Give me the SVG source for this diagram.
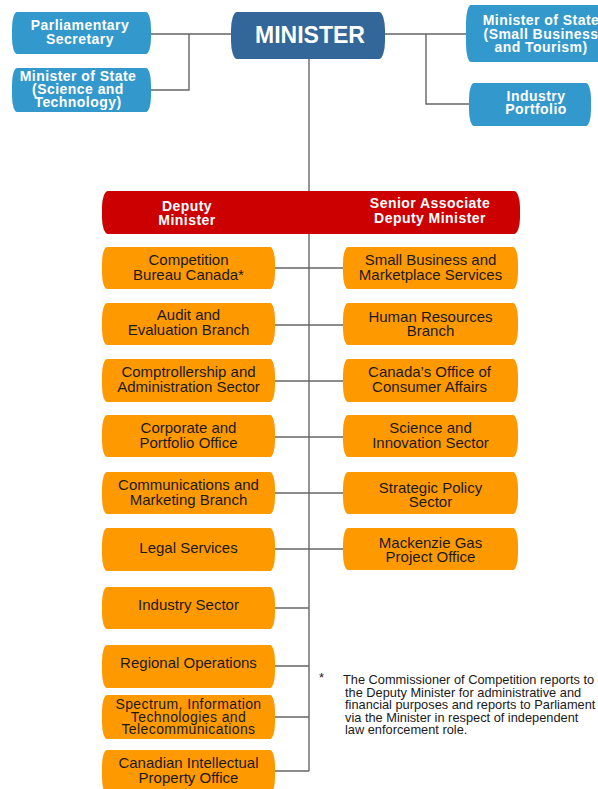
<svg xmlns="http://www.w3.org/2000/svg" width="598" height="789" viewBox="0 0 598 789">
  <style>
    .bg { fill: #ffffff; }
    .lb { fill: #3399cc; }
    .db { fill: #336699; }
    .rd { fill: #cc0000; }
    .or { fill: #ff9900; }
    .wt { font-family: "Liberation Sans", Arial, sans-serif; font-weight: bold; font-size: 14px; letter-spacing: 0.45px; fill: #ffffff; text-anchor: middle; }
    .bt { font-family: "Liberation Sans", Arial, sans-serif; font-size: 15px; fill: #1a1a1a; text-anchor: middle; }
    .bt3 { font-family: "Liberation Sans", Arial, sans-serif; font-size: 14px; letter-spacing: 0.4px; fill: #1a1a1a; text-anchor: middle; }
    .big { font-family: "Liberation Sans", Arial, sans-serif; font-weight: bold; font-size: 23px; fill: #ffffff; text-anchor: middle; }
    .note { font-family: "Liberation Sans", Arial, sans-serif; font-size: 12.8px; fill: #1a1a1a; }
    .ln { stroke: #666666; stroke-width: 1.4; fill: none; }
  </style>
  <rect class="bg" x="0" y="0" width="598" height="789"/>

  <!-- connectors -->
  <g id="connectors">
    <path class="ln" d="M151 34 H231 M189 34 V90 H151"/>
    <path class="ln" d="M385 34 H466 M426 34 V104 H469"/>
    <path class="ln" d="M309 59 V771"/>
    <path class="ln" d="M275 268 H343 M275 325 H343 M275 381 H343 M275 437 H343 M275 493 H343 M275 549 H343"/>
    <path class="ln" d="M275 608 H309 M275 666 H309 M275 717 H309 M275 771 H309"/>
  </g>

  <!-- top level -->
  <g id="minister">
    <rect class="db" x="231" y="12" width="154" height="47" rx="6" ry="18"/>
    <text class="big" x="310" y="43">MINISTER</text>
  </g>
  <g id="parliamentary-secretary">
    <rect class="lb" x="12" y="12" width="139" height="42" rx="5" ry="16"/>
    <text class="wt" x="80" y="30">Parliamentary</text>
    <text class="wt" x="80" y="44">Secretary</text>
  </g>
  <g id="minister-science">
    <rect class="lb" x="12" y="68" width="139" height="44" rx="5" ry="16"/>
    <text class="wt" x="78" y="81">Minister of State</text>
    <text class="wt" x="78" y="94">(Science and</text>
    <text class="wt" x="78" y="107">Technology)</text>
  </g>
  <g id="minister-small-business">
    <rect class="lb" x="466" y="5" width="150" height="57" rx="5" ry="18"/>
    <text class="wt" x="541" y="25">Minister of State</text>
    <text class="wt" x="541" y="38.5">(Small Business</text>
    <text class="wt" x="541" y="52">and Tourism)</text>
  </g>
  <g id="industry-portfolio">
    <rect class="lb" x="469" y="83" width="122" height="43" rx="5" ry="16"/>
    <text class="wt" x="536" y="101">Industry</text>
    <text class="wt" x="536" y="114">Portfolio</text>
  </g>

  <!-- deputy bar -->
  <g id="deputy-bar">
    <rect class="rd" x="102" y="191" width="418" height="43" rx="6" ry="16"/>
    <text class="wt" x="187" y="211">Deputy</text>
    <text class="wt" x="187" y="225">Minister</text>
    <text class="wt" x="430" y="208">Senior Associate</text>
    <text class="wt" x="430" y="223">Deputy Minister</text>
  </g>

  <!-- left column -->
  <g id="competition-bureau">
    <rect class="or" x="102" y="247" width="173" height="42" rx="5" ry="16"/>
    <text class="bt" x="188.5" y="265">Competition</text>
    <text class="bt" x="188.5" y="280">Bureau Canada*</text>
  </g>
  <g id="audit-evaluation">
    <rect class="or" x="102" y="303" width="173" height="42" rx="5" ry="16"/>
    <text class="bt" x="188.5" y="320">Audit and</text>
    <text class="bt" x="188.5" y="335">Evaluation Branch</text>
  </g>
  <g id="comptrollership">
    <rect class="or" x="102" y="359" width="173" height="43" rx="5" ry="16"/>
    <text class="bt" x="188.5" y="377">Comptrollership and</text>
    <text class="bt" x="188.5" y="392">Administration Sector</text>
  </g>
  <g id="corporate-portfolio">
    <rect class="or" x="102" y="415" width="173" height="42" rx="5" ry="16"/>
    <text class="bt" x="188.5" y="433">Corporate and</text>
    <text class="bt" x="188.5" y="448">Portfolio Office</text>
  </g>
  <g id="communications-marketing">
    <rect class="or" x="102" y="472" width="173" height="42" rx="5" ry="16"/>
    <text class="bt" x="188.5" y="490">Communications and</text>
    <text class="bt" x="188.5" y="505">Marketing Branch</text>
  </g>
  <g id="legal-services">
    <rect class="or" x="102" y="528" width="173" height="43" rx="5" ry="16"/>
    <text class="bt" x="188.5" y="553">Legal Services</text>
  </g>
  <g id="industry-sector">
    <rect class="or" x="102" y="587" width="173" height="42" rx="5" ry="16"/>
    <text class="bt" x="188.5" y="610">Industry Sector</text>
  </g>
  <g id="regional-operations">
    <rect class="or" x="102" y="645" width="173" height="43" rx="5" ry="16"/>
    <text class="bt" x="188.5" y="668">Regional Operations</text>
  </g>
  <g id="spectrum-it-telecom">
    <rect class="or" x="102" y="695" width="173" height="44" rx="5" ry="16"/>
    <text class="bt3" x="188.5" y="709">Spectrum, Information</text>
    <text class="bt3" x="188.5" y="721.5">Technologies and</text>
    <text class="bt3" x="188.5" y="734">Telecommunications</text>
  </g>
  <g id="cipo">
    <rect class="or" x="102" y="750" width="173" height="44" rx="5" ry="16"/>
    <text class="bt" x="188.5" y="768">Canadian Intellectual</text>
    <text class="bt" x="188.5" y="783">Property Office</text>
  </g>

  <!-- right column -->
  <g id="small-business-marketplace">
    <rect class="or" x="343" y="247" width="175" height="42" rx="5" ry="16"/>
    <text class="bt" x="430.5" y="265">Small Business and</text>
    <text class="bt" x="430.5" y="280">Marketplace Services</text>
  </g>
  <g id="human-resources">
    <rect class="or" x="343" y="303" width="175" height="42" rx="5" ry="16"/>
    <text class="bt" x="430.5" y="322">Human Resources</text>
    <text class="bt" x="430.5" y="336">Branch</text>
  </g>
  <g id="consumer-affairs">
    <rect class="or" x="343" y="359" width="175" height="43" rx="5" ry="16"/>
    <text class="bt" x="429.5" y="377">Canada’s Office of</text>
    <text class="bt" x="429.5" y="392">Consumer Affairs</text>
  </g>
  <g id="science-innovation">
    <rect class="or" x="343" y="415" width="175" height="42" rx="5" ry="16"/>
    <text class="bt" x="430.5" y="433">Science and</text>
    <text class="bt" x="430.5" y="448">Innovation Sector</text>
  </g>
  <g id="strategic-policy">
    <rect class="or" x="343" y="472" width="175" height="42" rx="5" ry="16"/>
    <text class="bt" x="430.5" y="493">Strategic Policy</text>
    <text class="bt" x="430.5" y="507">Sector</text>
  </g>
  <g id="mackenzie-gas">
    <rect class="or" x="343" y="528" width="175" height="42" rx="5" ry="16"/>
    <text class="bt" x="430.5" y="548">Mackenzie Gas</text>
    <text class="bt" x="430.5" y="562">Project Office</text>
  </g>

  <!-- footnote -->
  <g id="footnote">
    <text class="note" x="319" y="682">*</text>
    <text class="note" x="343" y="684">The Commissioner of Competition reports to</text>
    <text class="note" x="345" y="697">the Deputy Minister for administrative and</text>
    <text class="note" x="345" y="709">financial purposes and reports to Parliament</text>
    <text class="note" x="345" y="722">via the Minister in respect of independent</text>
    <text class="note" x="345" y="734">law enforcement role.</text>
  </g>
</svg>
